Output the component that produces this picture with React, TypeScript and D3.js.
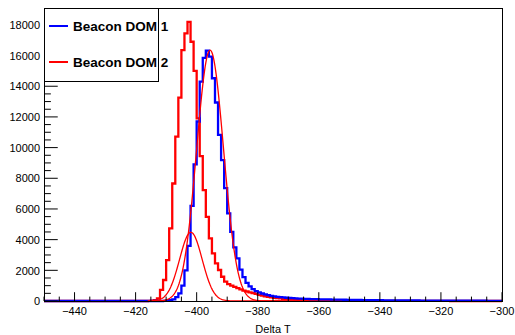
import React from "react";
import * as d3 from "d3";

// histogram range, 1 unit per bin
const xMin = -450;
const xMax = -300;
const yMax = 19100;

// Beacon DOM 1 (blue), first bin starts at -411
const blueStart = -411;
const blueCounts = [
  10, 25, 50, 110, 250, 500, 1000, 2000, 3600, 6200,
  8900, 11700, 14300, 15850, 16320, 15930, 14520, 12940, 10830, 9180,
  7360, 5710, 4510, 3500, 2780, 2050, 1550, 1180, 950, 780,
  650, 560, 490, 430, 380, 340, 305, 275, 250, 230,
  212, 196,
  182, 170, 160, 150, 142, 135, 128, 122, 117, 112,
  108, 104, 100, 96, 92, 88, 85, 82, 78, 75,
  72, 69, 66, 63, 60, 58, 55, 53, 51, 49,
  47, 45, 43, 41, 40, 38, 37, 35, 34, 33,
  32, 31, 30, 29, 28, 27, 26, 25, 24, 23,
  22, 21, 21, 20, 19, 19, 18, 18, 17, 17,
  16, 16, 15, 15, 14, 14, 13, 13, 12,
];

// Beacon DOM 2 (red), first bin starts at -416
const redStart = -416;
const redCounts = [
  10, 25, 60, 175, 720, 1370, 2670, 4730, 7660, 10720,
  13260, 16360, 17450, 18200, 16900, 15000, 11900, 9440, 7230, 5480,
  4080, 3100, 2450, 2020, 1580, 1260, 1100, 1000, 920, 840,
  760, 680, 620, 560, 510, 460, 400, 350, 310, 270,
  240, 210, 185, 165, 145, 130, 115,
  100, 90, 80, 72, 65, 59, 54, 49, 45, 41,
  38, 35, 32, 30, 28, 26, 24, 22, 20, 19,
  17, 16, 15, 14, 13, 12, 11, 10, 10, 9,
  8, 8, 7, 7, 6, 6, 5, 5, 5, 4,
  4, 4, 3, 3, 3, 3, 2, 2, 2, 2,
  2, 2, 1, 1, 1, 1, 1, 1, 1, 1,
  1, 1, 1, 0, 0, 0, 0, 0, 0,
];

// gaussian fits (amplitude, mean, sigma)
const fitBig = { amp: 16350, mean: -395.6, sigma: 4.4 };
const fitSmall = { amp: 4480, mean: -401.9, sigma: 3.7 };
const fitRange = [-416, -366];

const xTicks = [-440, -420, -400, -380, -360, -340, -320, -300];
const yTicks = [0, 2000, 4000, 6000, 8000, 10000, 12000, 14000, 16000, 18000];

const legendItems = [
  { label: "Beacon DOM 1", color: "#0000ff" },
  { label: "Beacon DOM 2", color: "#ff0000" },
];

const W = 515;
const H = 335;
const margin = { top: 8, right: 13, bottom: 34, left: 44 };
const font = "'Liberation Sans', Arial, Helvetica, sans-serif";

function fullBins(start: number, counts: number[]) {
  const out: [number, number][] = [];
  for (let e = xMin; e < xMax; e++) {
    const i = e - start;
    out.push([e, i >= 0 && i < counts.length ? counts[i] : 0]);
  }
  out.push([xMax, out[out.length - 1][1]]);
  return out;
}

export default function App() {
  const x = d3.scaleLinear().domain([xMin, xMax]).range([margin.left, W - margin.right]);
  const y = d3.scaleLinear().domain([0, yMax]).range([H - margin.bottom, margin.top]);
  const x0 = margin.left, x1 = W - margin.right;
  const y0 = H - margin.bottom, y1 = margin.top;

  const step = d3.line<[number, number]>()
    .x((d) => x(d[0]))
    .y((d) => y(d[1]))
    .curve(d3.curveStepAfter);

  const gauss = (f: { amp: number; mean: number; sigma: number }) => {
    const pts: [number, number][] = [];
    for (let v = fitRange[0]; v <= fitRange[1]; v += 0.2) {
      pts.push([v, f.amp * Math.exp(-((v - f.mean) ** 2) / (2 * f.sigma * f.sigma))]);
    }
    return d3.line<[number, number]>().x((d) => x(d[0])).y((d) => y(d[1]))(pts) || "";
  };

  const xMinor = d3.range(xMin, xMax + 0.1, 5).filter((v) => v % 20 !== 0);
  const yMinor = d3.range(0, yMax, 500).filter((v) => v % 2000 !== 0);
  const xTickLen = 0.03 * (y0 - y1);
  const yTickLen = 0.03 * (x1 - x0);

  return (
    <svg width={W} height={H} style={{ position: "absolute", left: 0, top: 0, background: "#fff" }} fontFamily={font}>
      <rect x={0} y={0} width={W} height={H} fill="#fff" />

      <path d={step(fullBins(redStart, redCounts)) || ""} fill="none" stroke="#ff0000" strokeWidth={2.3} />
      <path d={step(fullBins(blueStart, blueCounts)) || ""} fill="none" stroke="#0000ff" strokeWidth={2.3} />

      <path d={gauss(fitBig)} fill="none" stroke="#ff0000" strokeWidth={1.3} />
      <path d={gauss(fitSmall)} fill="none" stroke="#ff0000" strokeWidth={1.3} />

      {/* frame */}
      <rect x={x0 + 0.5} y={y1 + 0.5} width={x1 - x0} height={y0 - y1} fill="none" stroke="#000" strokeWidth={1} />

      {/* x axis */}
      {xTicks.map((t) => (
        <g key={"xt" + t}>
          <line x1={x(t)} x2={x(t)} y1={y0} y2={y0 - xTickLen} stroke="#000" />
          <text x={x(t)} y={314.5} fontSize={11} textAnchor="middle" fill="#000">
            {String(t).replace("-", "\u2212")}
          </text>
        </g>
      ))}
      {xMinor.map((t) => (
        <line key={"xm" + t} x1={x(t)} x2={x(t)} y1={y0} y2={y0 - xTickLen / 2} stroke="#000" />
      ))}
      <text x={(x0 + x1) / 2} y={333} fontSize={11} textAnchor="middle" fill="#000">Delta T</text>

      {/* y axis */}
      {yTicks.map((t) => (
        <g key={"yt" + t}>
          <line x1={x0} x2={x0 + yTickLen} y1={y(t)} y2={y(t)} stroke="#000" />
          <text x={40} y={y(t) + 4.2} fontSize={11} textAnchor="end" fill="#000">{t}</text>
        </g>
      ))}
      {yMinor.map((t) => (
        <line key={"ym" + t} x1={x0} x2={x0 + yTickLen / 2} y1={y(t)} y2={y(t)} stroke="#000" />
      ))}
      <line x1={x0 + 0.5} x2={x0 + 0.5} y1={y1} y2={y0} stroke="#000" />
      <line x1={x0} x2={x1} y1={y0 + 0.5} y2={y0 + 0.5} stroke="#000" />

      {/* legend */}
      <rect x={44.5} y={8.5} width={114} height={73} fill="#fff" stroke="#000" strokeWidth={1} />
      {legendItems.map((it, i) => (
        <g key={it.label}>
          <line x1={49} x2={68} y1={26 + i * 36} y2={26 + i * 36} stroke={it.color} strokeWidth={2} />
          <text x={73} y={30.9 + i * 36} fontSize={13.5} fontWeight="bold" fill="#000">{it.label}</text>
        </g>
      ))}
    </svg>
  );
}
